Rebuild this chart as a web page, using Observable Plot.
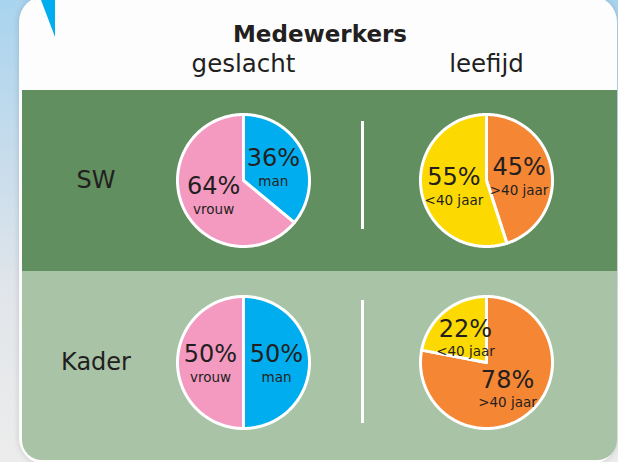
<!DOCTYPE html>
<html>
<head>
<meta charset="utf-8">
<script src="https://cdn.jsdelivr.net/npm/d3@7"></script>
<script src="https://cdn.jsdelivr.net/npm/@observablehq/plot@0.6"></script>
<style>
html, body { margin: 0; padding: 0; }
body {
  width: 618px; height: 462px; overflow: hidden; position: relative;
  background: linear-gradient(180deg, #a9d4ef 0%, #c4dbec 30%, #e2e6ea 65%, #ececec 100%);
  font-family: "DejaVu Sans", sans-serif; color: #231f20;
}
#card { position: absolute; left: 19px; top: -4px; width: 598px; height: 468px; background: #fdfdfd;
  border-radius: 26px; box-shadow: 0 0 6px rgba(0,0,0,0.15); }
#tri { position: absolute; left: 41px; top: 0; width: 14px; height: 37px; background: #00aeef;
  clip-path: polygon(0 0, 100% 0, 100% 100%); }
#band1 { position: absolute; left: 22px; top: 90px; width: 595px; height: 181px; background: #618f5f; }
#band2 { position: absolute; left: 22px; top: 271px; width: 595px; height: 189px; background: #a8c3a5;
  border-radius: 0 0 20px 20px; }
.div { position: absolute; left: 361px; width: 3px; background: #ffffff; }
#title { position: absolute; left: 0; top: 23px; width: 640px; text-align: center; font-weight: bold;
  font-size: 23px; line-height: 23px; font-family: "DejaVu Sans", sans-serif; color: #231f20; }
#chart { position: absolute; left: 0; top: 0; }
</style>
</head>
<body>
<div id="card"></div>
<div id="tri"></div>
<div id="band1"></div>
<div id="band2"></div>
<div class="div" style="top:121px;height:108px"></div>
<div class="div" style="top:300px;height:123px"></div>
<div id="title">Medewerkers</div>
<div id="chart"></div>
<script>
// ---- data ----
const columns = ["geslacht", "leefijd"];
const rows = ["SW", "Kader"];
const geslachtCategories = ["man", "vrouw"];
const leeftijdCategories = [">40 jaar", "<40 jaar"];
const geslachtSW = [36, 64];
const geslachtKader = [50, 50];
const leeftijdSW = [45, 55];
const leeftijdKader = [78, 22];
const categoryColors = ["#00aeef", "#f49ac1", "#f58634", "#fcd900"];

const pies = [
  {row: "SW", col: "geslacht", cats: geslachtCategories, vals: geslachtSW},
  {row: "SW", col: "leefijd", cats: leeftijdCategories, vals: leeftijdSW},
  {row: "Kader", col: "geslacht", cats: geslachtCategories, vals: geslachtKader},
  {row: "Kader", col: "leefijd", cats: leeftijdCategories, vals: leeftijdKader}
];

// build slice polygons (clockwise from 12 o'clock) and label anchors from the values
const slicePoints = [];
const sliceLabels = [];
for (const p of pies) {
  const total = d3.sum(p.vals);
  let cum = 0;
  p.vals.forEach((v, i) => {
    const a0 = cum / total * 2 * Math.PI;
    const a1 = (cum + v) / total * 2 * Math.PI;
    cum += v;
    const id = p.row + "|" + p.col + "|" + i;
    const n = Math.max(2, Math.ceil((a1 - a0) / (Math.PI / 180)));
    const pts = [[0, 0]];
    for (let k = 0; k <= n; k++) {
      const a = a0 + (a1 - a0) * k / n;
      pts.push([Math.sin(a), Math.cos(a)]);
    }
    pts.push([0, 0]);
    for (const [x, y] of pts) slicePoints.push({id, row: p.row, col: p.col, category: p.cats[i], x, y});
    const am = (a0 + a1) / 2;
    sliceLabels.push({row: p.row, col: p.col, category: p.cats[i], value: v,
      x: 0.5 * Math.sin(am), y: 0.5 * Math.cos(am)});
  });
}

// ---- layout ----
const W = 618, H = 462;
const D = 132;            // pie diameter in px
const po = 0.1;
const stepX = 243, stepY = 182.5;
function band(c0, step, bw, total) {
  const pi = 1 - bw / step;
  const start = c0 - po * step - bw / 2;
  const range = step * (2 - pi + 2 * po);
  return {pi, m0: start, m1: total - start - range};
}
const bx = band(243.5, stepX, D, W);
const by = band(180, stepY, D, H);
const facetLeft = bx.m0 + po * stepX;

const chart = Plot.plot({
  width: W, height: H,
  marginLeft: bx.m0, marginRight: bx.m1, marginTop: by.m0, marginBottom: by.m1,
  style: {background: "transparent", overflow: "visible", fontFamily: "DejaVu Sans, sans-serif", color: "#231f20"},
  fx: {domain: columns, paddingInner: bx.pi, paddingOuter: po},
  fy: {domain: rows, paddingInner: by.pi, paddingOuter: po},
  x: {domain: [-1, 1], axis: null},
  y: {domain: [-1, 1], axis: null},
  color: {domain: [...geslachtCategories, ...leeftijdCategories], range: categoryColors},
  marks: [
    Plot.line(slicePoints, {fx: "col", fy: "row", x: "x", y: "y", z: "id", fill: "category",
      stroke: "white", strokeWidth: 3, strokeLinejoin: "round", curve: "linear"}),
    Plot.text(sliceLabels, {fx: "col", fy: "row", x: "x", y: "y", text: d => d.value + "%",
      dy: -8, fontSize: 24, fill: "#231f20"}),
    Plot.text(sliceLabels, {fx: "col", fy: "row", x: "x", y: "y", text: "category",
      dy: 15, fontSize: 13.5, fill: "#231f20"}),
    Plot.axisFx({anchor: "top", label: null, tickSize: 0, tickPadding: 43, fontSize: 24.5, color: "#231f20"}),
    Plot.axisFy({anchor: "left", label: null, tickSize: 0, tickPadding: facetLeft - 96, textAnchor: "middle",
      fontSize: 24, color: "#231f20"})
  ]
});
document.getElementById("chart").appendChild(chart);
</script>
</body>
</html>
